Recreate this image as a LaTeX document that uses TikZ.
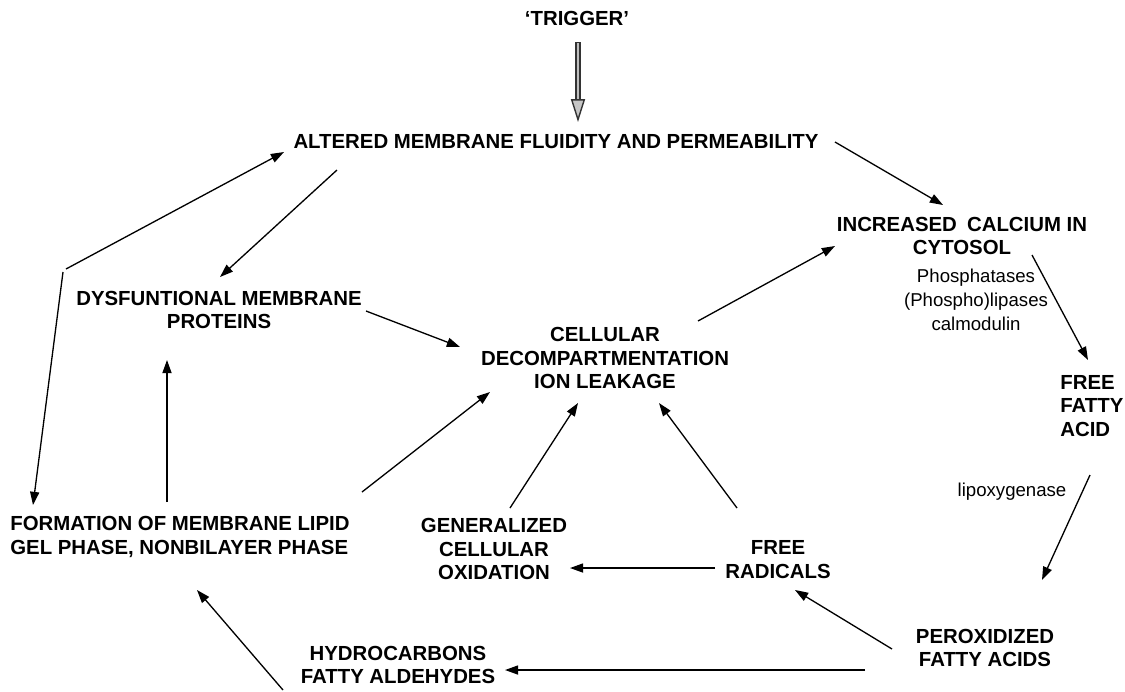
\documentclass[tikz,border=0pt]{standalone}
\usepackage{fontspec}
\setmainfont{Liberation Sans}
\usetikzlibrary{arrows.meta}

\begin{document}
\begin{tikzpicture}[x=0.02cm,y=-0.02cm,
      lbl/.style={font=\bfseries\fontsize{11.6}{13.6}\selectfont,align=center,inner sep=0pt},
      enz/.style={font=\fontsize{10.6}{13.6}\selectfont,align=center,inner sep=0pt},
      arr/.style={line width=0.75pt,-{Triangle[length=7.5pt,width=5.2pt]}}]
            \useasboundingbox (0,0) rectangle (1125,691);

            \node [lbl] (trig) at (577,18) {‘TRIGGER’};
            \node [lbl] (alt) at (556,142) {ALTERED MEMBRANE FLUIDITY AND PERMEABILITY};
            \node [lbl] (calc) at (962,236) {INCREASED\hspace{0.5em}CALCIUM IN\\CYTOSOL};
            \node [enz] (enzy) at (976,300) {Phosphatases\\(Phospho)lipases\\calmodulin};
            \node [lbl,align=left,anchor=west] (ffa) at (1060,406) {FREE\\FATTY\\ACID};
            \node [enz] (lipox) at (1012,492) {lipoxygenase};
            \node [lbl] (perox) at (985,648) {PEROXIDIZED\\FATTY ACIDS};
            \node [lbl] (hydro) at (398,665) {HYDROCARBONS\\FATTY ALDEHYDES};
            \node [lbl,align=left,anchor=west] (form) at (10,537)
               {FORMATION OF MEMBRANE LIPID\\GEL PHASE, NONBILAYER PHASE};
            \node [lbl] (gen) at (494,549) {GENERALIZED\\CELLULAR\\OXIDATION};
            \node [lbl] (free) at (778,560) {FREE\\RADICALS};
            \node [lbl] (cell) at (605,358) {CELLULAR\\DECOMPARTMENTATION\\ION LEAKAGE};
            \node [lbl] (dys) at (219,310) {DYSFUNTIONAL MEMBRANE\\PROTEINS};
            \coordinate (bend) at (64,269);

            \draw [black!80,line width=3.4pt,
                   -{Triangle[length=13pt,width=8pt,fill=gray!45,line width=0.8pt]}]
               ([shift={(1,24)}]trig.center) -- ([shift={(22,-20)}]alt.center);
            \draw [gray!50,line width=1.6pt,shorten >=13pt]
               ([shift={(1,25)}]trig.center) -- ([shift={(22,-20)}]alt.center);

            \draw [arr] ([shift={(279,0)}]alt.center) -- ([shift={(-19,-31)}]calc.center);
            \draw [arr] ([shift={(70,19)}]calc.center) -- ([shift={(28,-46)}]ffa.west);
            \draw [arr] ([shift={(30,69)}]ffa.west) -- ([shift={(57,-68)}]perox.center);
            \draw [arr] ([shift={(-93,1)}]perox.center) -- ([shift={(17,30)}]free.center);
            \draw [arr] ([shift={(-120,22)}]perox.center) -- ([shift={(107,5)}]hydro.center);
            \draw [arr] ([shift={(-115,25)}]hydro.center) -- ([shift={(187,53)}]form.west);
            \draw [arr] ([shift={(157,-35)}]form.west) -- ([shift={(-52,50)}]dys.center);
            \draw [arr] ([shift={(352,-45)}]form.west) -- ([shift={(-115,34)}]cell.center);
            \draw [arr] ([shift={(16,-41)}]gen.center) -- ([shift={(-27,45)}]cell.center);
            \draw [arr] ([shift={(-41,-52)}]free.center) -- ([shift={(54,45)}]cell.center);
            \draw [arr] ([shift={(-63,8)}]free.center) -- ([shift={(76,19)}]gen.center);
            \draw [arr] ([shift={(93,-37)}]cell.center) -- ([shift={(-127,10)}]calc.center);
            \draw [arr] ([shift={(147,1)}]dys.center) -- ([shift={(-145,-11)}]cell.center);
            \draw [arr] ([shift={(-219,28)}]alt.center) -- ([shift={(1,-33)}]dys.center);
            \draw [arr] ([shift={(2,0)}]bend) -- ([shift={(-272,10)}]alt.center);
            \draw [arr] ([shift={(-1,3)}]bend) -- ([shift={(23,-32)}]form.west);
         \end{tikzpicture}
\end{document}
